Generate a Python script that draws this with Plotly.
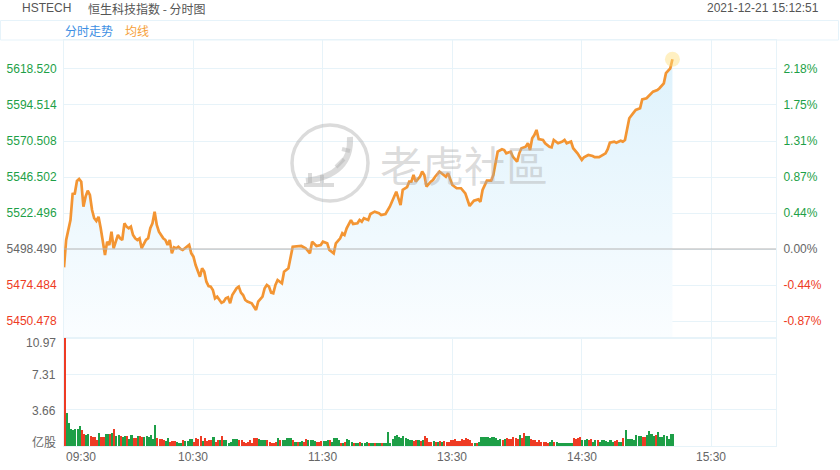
import plotly.graph_objects as go

# ---------------- data ----------------
prev_close = 5498.490
# trading minutes since 09:30 (lunch break removed) and index level
minute = [0, 1, 3, 4, 5, 6, 7, 8, 9, 10, 11, 12, 13, 14, 15, 16, 17, 18, 19, 20,
          21, 22, 23, 24, 25, 26, 27, 28, 29, 30, 31, 32, 33, 34, 35, 36, 38, 39, 40, 41,
          42, 43, 44, 45, 46, 47, 48, 49, 50, 51, 52, 53, 54, 55, 56, 58, 59, 60, 61, 62,
          63, 64, 65, 66, 67, 68, 69, 70, 71, 73, 74, 75, 76, 77, 78, 80, 81, 82, 83, 84,
          85, 87, 88, 89, 90, 91, 92, 93, 94, 95, 96, 97, 98, 99, 101, 102, 104, 106, 108, 110,
          112, 114, 115, 117, 119, 120, 122, 123, 125, 126, 128, 129, 130, 131, 133, 134, 136, 137, 138, 139,
          141, 142, 144, 146, 147, 149, 151, 152, 154, 155, 156, 157, 159, 160, 161, 162, 163, 165, 166, 167,
          168, 170, 171, 172, 174, 175, 177, 178, 179, 180, 182, 184, 186, 187, 188, 190, 192, 193, 194, 196,
          198, 199, 200, 201, 203, 204, 205, 207, 208, 210, 211, 212, 214, 215, 216, 217, 218, 219, 220, 222,
          223, 225, 226, 227, 229, 231, 232, 233, 235, 236, 238, 239, 240, 241, 243, 245, 246, 248, 249, 251,
          252, 253, 255, 256, 258, 259, 260, 261, 262, 264, 265, 267, 268, 270, 272, 273, 275, 276, 278, 279,
          281, 282]
price = [5486.3, 5504.5, 5517.8, 5535.2, 5535.5, 5543.9, 5545.2, 5543.4, 5526.7, 5533.4,
         5537.4, 5534.5, 5524.5, 5519.0, 5517.2, 5520.0, 5512.5, 5504.5, 5494.5, 5503.4,
         5501.2, 5510.0, 5499.0, 5503.4, 5507.8, 5505.6, 5504.5, 5515.6, 5513.4, 5512.3,
         5513.4, 5507.8, 5505.6, 5504.5, 5505.6, 5499.0, 5504.5, 5505.6, 5512.3, 5515.6,
         5523.4, 5514.5, 5510.0, 5507.8, 5505.6, 5504.5, 5501.2, 5504.5, 5495.6, 5499.6,
         5499.0, 5500.0, 5498.5, 5497.8, 5499.0, 5501.2, 5495.6, 5493.4, 5487.8, 5483.4,
         5480.0, 5485.6, 5483.4, 5476.7, 5473.8, 5473.4, 5471.2, 5465.6, 5466.7, 5462.7,
         5463.4, 5465.6, 5466.3, 5462.3, 5467.8, 5472.3, 5473.4, 5469.4, 5467.8, 5464.5,
         5463.4, 5462.3, 5460.0, 5457.8, 5463.4, 5465.2, 5466.7, 5472.3, 5474.5, 5473.4,
         5469.4, 5469.0, 5474.5, 5477.8, 5475.6, 5483.4, 5485.6, 5500.0, 5500.5, 5500.5,
         5499.0, 5495.6, 5503.4, 5500.5, 5501.2, 5503.4, 5502.3, 5497.8, 5495.6, 5502.3,
         5505.6, 5509.0, 5507.8, 5512.3, 5517.8, 5515.2, 5515.6, 5517.8, 5516.7, 5519.0,
         5517.8, 5521.8, 5523.4, 5522.3, 5521.2, 5521.8, 5526.7, 5530.0, 5536.7, 5532.3,
         5527.8, 5537.9, 5539.7, 5543.4, 5543.4, 5547.9, 5543.4, 5546.7, 5550.1, 5547.9,
         5540.1, 5543.4, 5544.5, 5546.7, 5550.1, 5549.0, 5546.7, 5549.0, 5544.5, 5541.2,
         5539.0, 5539.0, 5535.6, 5531.2, 5527.2, 5530.7, 5531.6, 5530.0, 5537.9, 5544.1,
         5544.1, 5547.9, 5556.7, 5563.4, 5565.0, 5564.5, 5562.3, 5563.4, 5560.1, 5556.7,
         5562.3, 5565.7, 5566.7, 5569.0, 5564.5, 5572.3, 5574.5, 5577.9, 5571.8, 5571.2,
         5569.0, 5566.7, 5566.3, 5571.2, 5569.0, 5570.1, 5571.2, 5569.0, 5570.1, 5565.7,
         5562.3, 5560.1, 5557.9, 5559.7, 5561.2, 5560.5, 5559.7, 5559.7, 5560.5, 5562.3,
         5565.0, 5569.4, 5570.1, 5569.4, 5570.7, 5570.1, 5571.2, 5579.0, 5585.7, 5589.4,
         5591.2, 5592.3, 5598.3, 5599.0, 5602.3, 5603.4, 5604.5, 5605.7, 5609.0, 5615.7,
         5619.0, 5625.0]

# per-minute volume (亿股), from 09:30
volume = [10.97, 3.39, 2.30, 1.73, 1.63, 1.73, 1.73, 2.03, 1.63, 1.22,
          1.12, 1.19, 1.02, 0.95, 0.88, 0.61, 1.29, 0.95, 0.95, 1.22,
          1.19, 1.22, 1.36, 1.70, 1.02, 1.08, 1.02, 0.88, 1.02, 1.02,
          0.68, 1.08, 0.78, 0.78, 1.02, 1.02, 0.88, 0.88, 1.02, 0.88,
          1.12, 0.68, 2.14, 0.78, 0.68, 0.68, 0.61, 0.47, 0.78, 0.44,
          0.51, 0.51, 0.44, 0.34, 0.34, 0.61, 0.54, 0.54, 0.68, 0.68,
          0.44, 0.78, 0.68, 1.02, 0.54, 0.78, 0.51, 0.61, 0.61, 0.88,
          0.44, 0.61, 0.61, 1.02, 0.61, 0.61, 0.34, 0.44, 0.68, 0.68,
          0.68, 0.61, 0.61, 0.44, 0.34, 0.44, 0.61, 0.34, 0.78, 0.78,
          0.68, 0.61, 0.61, 0.61, 0.61, 0.44, 0.34, 0.27, 0.44, 0.78,
          0.61, 0.61, 0.61, 0.78, 0.78, 0.78, 0.61, 0.44, 0.44, 0.44,
          0.51, 0.44, 0.68, 0.61, 0.61, 0.61, 0.51, 0.44, 0.44, 0.51,
          0.51, 0.51, 0.61, 0.61, 0.44, 0.78, 0.78, 0.61, 0.27, 0.34,
          0.44, 0.68, 0.61, 0.44, 0.34, 0.34, 0.34, 0.44, 0.27, 0.34,
          0.44, 0.34, 0.34, 0.34, 0.27, 0.34, 0.27, 0.34, 0.27, 0.27,
          1.46, 0.34, 0.68, 1.02, 1.12, 0.95, 0.78, 1.02, 0.78, 0.68,
          0.61, 0.61, 0.51, 0.61, 0.61, 0.51, 0.61, 1.02, 0.78, 0.44,
          0.44, 0.51, 0.44, 0.44, 0.51, 0.44, 0.51, 0.44, 0.44, 0.61,
          0.61, 0.68, 0.51, 0.51, 0.68, 0.61, 0.78, 0.68, 0.61, 0.34,
          0.34, 0.34, 0.44, 0.88, 0.95, 0.88, 0.95, 0.78, 0.88, 0.95,
          0.78, 0.61, 0.68, 0.61, 0.68, 0.78, 0.68, 0.68, 0.88, 0.78,
          0.68, 1.12, 0.78, 1.29, 1.02, 1.02, 0.68, 0.61, 0.61, 0.44,
          0.61, 0.44, 0.44, 0.44, 0.34, 0.44, 0.61, 0.44, 0.44, 0.34,
          0.34, 0.27, 0.34, 0.34, 0.27, 0.34, 0.78, 0.68, 0.78, 0.88,
          0.61, 0.61, 0.68, 0.61, 0.68, 0.44, 0.61, 0.61, 0.44, 0.61,
          0.61, 0.51, 0.44, 0.61, 0.44, 0.51, 0.61, 0.44, 0.44, 0.78,
          1.63, 0.68, 0.68, 0.68, 0.61, 1.12, 1.02, 1.02, 0.95, 0.95,
          1.12, 1.56, 1.19, 1.02, 1.12, 1.46, 0.95, 0.95, 1.12, 1.02,
          0.68, 1.19, 1.19]
# u = up (green), d = down (red), one per minute, 10 per row
bar_dir_rows = [
    "duuuuuuudd", "uudddduddu", "ududuuduud", "uuddudduuu", "uuudddduud",
    "dduuuduuuu", "dddduddddu", "dduduuuuuu", "uddddddddd", "uuuudddddu",
    "duuuuududu", "udduuuuddd", "uuuduuuudu", "duuuduuduu", "uduuduuduu",
    "uuuuuuuuuu", "uuddududdd", "dudududddd", "dddddddddd", "uduuuuuuuu",
    "uuududdddd", "dudduudddd", "ddddduuduu", "uuuuuudddd", "uuudduuduu",
    "uuuuudduud", "uuuuuuuudd", "uuuuduuuuuuuu",
]
bar_dir = list("".join(bar_dir_rows))

price_ticks = [5450.478, 5474.484, 5498.490, 5522.496, 5546.502, 5570.508, 5594.514, 5618.520]
price_tick_text = ["5450.478", "5474.484", "5498.490", "5522.496", "5546.502", "5570.508", "5594.514", "5618.520"]
pct_tick_text = ["-0.87%", "-0.44%", "0.00%", "0.44%", "0.87%", "1.31%", "1.75%", "2.18%"]
vol_ticks = [0, 3.66, 7.31, 10.97]
vol_tick_text = ["亿股", "3.66", "7.31", "10.97"]
time_ticks = [0, 60, 120, 180, 240, 300]
time_tick_text = ["09:30", "10:30", "11:30", "13:30", "14:30", "15:30"]
session_len = 330

# ---------------- style ----------------
FONT = "Arial, 'Liberation Sans', 'Noto Sans CJK SC', sans-serif"
CJK = "'Noto Sans CJK SC', 'Noto Sans CJK TC', sans-serif"
GRID = "#e7f3f9"
UP = "#1d9f47"
DOWN = "#ee3b24"
FLAT = "#666666"
ORANGE = "#f39533"

W, H = 840, 470
L, R, T, B = 64, 64, 40, 24
PW, PH = W - L - R, H - T - B
VOL_H = 108


def px2x(px):
    return (px - L) / PW


def py2y(py):
    return (H - B - py) / PH


def tick_color(v):
    if abs(v - prev_close) < 1e-6:
        return FLAT
    return UP if v > prev_close else DOWN


left_text = [f'<span style="color:{tick_color(v)}">{t}</span>' for v, t in zip(price_ticks, price_tick_text)]
right_text = [f'<span style="color:{tick_color(v)}">{t}</span>' for v, t in zip(price_ticks, pct_tick_text)]

y_lo, y_hi = 5439.15, 5637.85

fig = go.Figure()

# price line with gradient fill
fig.add_trace(go.Scatter(
    x=minute, y=price, mode="lines",
    line=dict(color=ORANGE, width=2.7),
    fill="tozeroy",
    fillgradient=dict(type="vertical",
                      colorscale=[[0, "rgba(250,253,255,1)"], [1, "rgba(222,242,252,1)"]],
                      start=y_lo, stop=price[-1]),
    hoverinfo="skip", showlegend=False, xaxis="x", yaxis="y"))

# glow at last point
fig.add_trace(go.Scatter(
    x=[minute[-1]], y=[price[-1]], mode="markers",
    marker=dict(size=15, color="rgba(255,222,120,0.45)", line=dict(width=0)),
    hoverinfo="skip", showlegend=False, xaxis="x", yaxis="y"))

# invisible trace for right axis
fig.add_trace(go.Scatter(
    x=minute, y=price, mode="lines", line=dict(width=0, color="rgba(0,0,0,0)"),
    hoverinfo="skip", showlegend=False, xaxis="x", yaxis="y3"))

# volume bars
bar_colors = [UP if d == "u" else DOWN for d in bar_dir[:len(volume)]]
fig.add_trace(go.Bar(
    x=list(range(len(volume))), y=volume, marker=dict(color=bar_colors, line=dict(width=0)),
    width=0.72, offset=0.05, hoverinfo="skip", showlegend=False, xaxis="x2", yaxis="y2"))

vol_frac = VOL_H / PH
common_x = dict(range=[0, session_len], tickvals=time_ticks, showticklabels=False,
                showgrid=True, gridcolor=GRID, gridwidth=1, zeroline=False,
                showline=True, linecolor=GRID, linewidth=1, mirror=True, fixedrange=True,
                automargin=False)

fig.update_layout(
    width=W, height=H,
    margin=dict(l=L, r=R, t=T, b=B, autoexpand=False),
    paper_bgcolor="white", plot_bgcolor="white",
    font=dict(family=FONT, size=12, color=FLAT),
    bargap=0,
    xaxis=dict(anchor="y", domain=[0, 1], **common_x),
    xaxis2=dict(anchor="y2", domain=[0, 1], **common_x),
    yaxis=dict(domain=[vol_frac, 1], range=[y_lo, y_hi], tickvals=price_ticks, ticktext=left_text,
               showgrid=True, gridcolor=GRID, zeroline=False, showline=True, linecolor=GRID,
               mirror=True, ticks="outside", ticklen=4, tickcolor="rgba(0,0,0,0)",
               tickfont=dict(size=12, family=FONT), fixedrange=True, automargin=False),
    yaxis3=dict(overlaying="y", side="right", range=[y_lo, y_hi], tickvals=price_ticks,
                ticktext=right_text, showgrid=False, zeroline=False, showline=False,
                ticks="outside", ticklen=4, tickcolor="rgba(0,0,0,0)",
                tickfont=dict(size=12, family=FONT), anchor="x", fixedrange=True, automargin=False),
    yaxis2=dict(domain=[0, vol_frac], range=[0, 10.97], tickvals=vol_ticks, showticklabels=False,
                showgrid=True, gridcolor=GRID, zeroline=False, showline=True, linecolor=GRID,
                mirror=True, fixedrange=True, automargin=False),
)

shapes = []
# header band
shapes.append(dict(type="rect", xref="paper", yref="paper",
                   x0=px2x(0.5), x1=px2x(838.5), y0=py2y(40), y1=py2y(20.5),
                   line=dict(color="#e6f3fa", width=1), fillcolor="white", layer="below"))
# previous close line
shapes.append(dict(type="line", xref="x", yref="y", x0=0, x1=session_len,
                   y0=prev_close, y1=prev_close, line=dict(color="#b4b4b4", width=1)))
# watermark logo circle
cx, cy = 330, 163
WM = "rgba(175,175,175,0.45)"
shapes.append(dict(type="circle", xref="paper", yref="paper",
                   xsizemode="pixel", ysizemode="pixel",
                   xanchor=px2x(cx), yanchor=py2y(cy),
                   x0=-38, x1=38, y0=-38, y1=38,
                   line=dict(color=WM, width=3.5)))
shapes.append(dict(type="path", xref="paper", yref="paper",
                   xsizemode="pixel", ysizemode="pixel",
                   xanchor=px2x(cx), yanchor=py2y(cy),
                   path="M 20 26 Q 22 -12 -24 -18",
                   line=dict(color=WM, width=6)))
shapes.append(dict(type="path", xref="paper", yref="paper",
                   xsizemode="pixel", ysizemode="pixel",
                   xanchor=px2x(cx), yanchor=py2y(cy),
                   path="M -26 -22 L 4 -22 M -20 -22 L -20 -10 M -8 -22 L -8 -12 M 6 -4 L 14 4 M 12 14 L 20 12",
                   line=dict(color=WM, width=4)))
fig.update_layout(shapes=shapes)

ann = []
# header texts
ann.append(dict(text="HSTECH", x=px2x(20), y=py2y(8), xref="paper", yref="paper",
                xanchor="left", yanchor="middle", showarrow=False,
                font=dict(size=12, color="#555555", family=FONT)))
ann.append(dict(text="恒生科技指数 - 分时图", x=px2x(86), y=py2y(8), xref="paper", yref="paper",
                xanchor="left", yanchor="middle", showarrow=False,
                font=dict(size=12, color="#555555", family=CJK)))
ann.append(dict(text="2021-12-21 15:12:51", x=px2x(821), y=py2y(8), xref="paper", yref="paper",
                xanchor="right", yanchor="middle", showarrow=False,
                font=dict(size=12, color="#555555", family=FONT)))
ann.append(dict(text="分时走势", x=px2x(63), y=py2y(30.5), xref="paper", yref="paper",
                xanchor="left", yanchor="middle", showarrow=False,
                font=dict(size=12, color="#3d8fe3", family=CJK)))
ann.append(dict(text="均线", x=px2x(123), y=py2y(30.5), xref="paper", yref="paper",
                xanchor="left", yanchor="middle", showarrow=False,
                font=dict(size=12, color="#f6a038", family=CJK)))
# watermark text
ann.append(dict(text="老虎社區", x=px2x(464), y=py2y(163), xref="paper", yref="paper",
                xanchor="center", yanchor="middle", showarrow=False,
                font=dict(size=42, color="rgba(170,170,170,0.42)", family=CJK)))
# volume labels
vol_label_py = [441, 411, 374.5, 343]
for t, pyv in zip(vol_tick_text, vol_label_py):
    ann.append(dict(text=t, x=px2x(58), y=py2y(pyv), xref="paper", yref="paper",
                    xanchor="right", yanchor="middle", showarrow=False,
                    font=dict(size=12, color=FLAT, family=FONT if t[0].isdigit() else CJK)))
# time labels
for i, (tv, tt) in enumerate(zip(time_ticks, time_tick_text)):
    ann.append(dict(text=tt, x=tv, xref="x2", y=py2y(456.5), yref="paper",
                    xanchor="left" if i == 0 else "center", yanchor="middle", showarrow=False,
                    font=dict(size=12, color=FLAT, family=FONT)))
fig.update_layout(annotations=ann)

fig.write_html(
    "out.html",
    config={"displayModeBar": False},
    post_script="document.body.style.margin='0';document.body.style.overflow='hidden';",
)
